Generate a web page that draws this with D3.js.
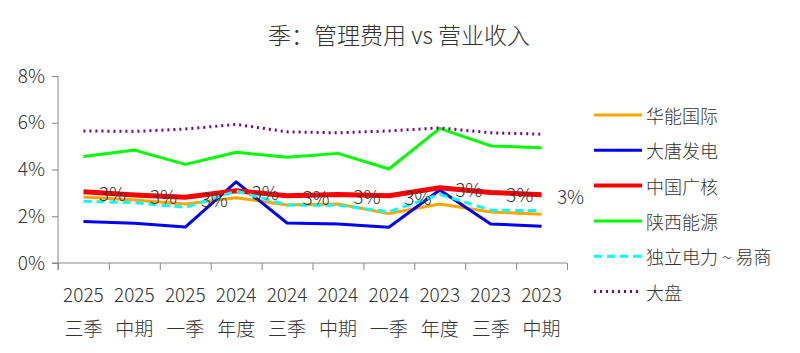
<!DOCTYPE html>
<html>
<head>
<meta charset="utf-8">
<script src="https://cdn.jsdelivr.net/npm/d3@7"></script>
<style>
  body { margin: 0; background: #fff; }
  svg text { font-family: "Noto Sans CJK SC", "Noto Sans", sans-serif; font-weight: 300; fill: #333; }
</style>
</head>
<body>
<svg id="canvas" width="800" height="353"></svg>
<script>
const years = ['2025', '2025', '2025', '2024', '2024', '2024', '2024', '2023', '2023', '2023'];
const periods = ['三季', '中期', '一季', '年度', '三季', '中期', '一季', '年度', '三季', '中期'];
const yTicks = [0, 2, 4, 6, 8];

const seriesNames = ['华能国际', '大唐发电', '中国广核', '陕西能源', '独立电力 ~ 易商', '大盘'];
const huaneng = [2.82, 2.69, 2.52, 2.79, 2.48, 2.52, 2.12, 2.52, 2.18, 2.09];
const datang = [1.78, 1.70, 1.54, 3.47, 1.71, 1.67, 1.53, 3.12, 1.67, 1.57];
const cgn = [3.05, 2.91, 2.81, 3.09, 2.88, 2.93, 2.88, 3.22, 3.02, 2.92];
const shaanxi = [4.56, 4.83, 4.22, 4.74, 4.52, 4.69, 4.02, 5.76, 5.01, 4.93];
const duli = [2.64, 2.58, 2.38, 3.08, 2.48, 2.47, 2.19, 2.94, 2.26, 2.24];
const dapan = [5.65, 5.63, 5.73, 5.93, 5.61, 5.57, 5.65, 5.78, 5.57, 5.51];

const settings = {
  left: 58, right: 567, top: 76, bottom: 263,
};

// style for each series, in legend order
const styles = [
  { color: '#FFA500', width: 3, dash: null },
  { color: '#0000FF', width: 3, dash: null },
  { color: '#FF0000', width: 5, dash: null },
  { color: '#00FF00', width: 3, dash: null },
  { color: '#00FFFF', width: 3, dash: '8,5' },
  { color: '#800080', width: 3, dash: '2,4' },
];

const series = [huaneng, datang, cgn, shaanxi, duli, dapan];

function graph() {
  const svg = d3.select('#canvas');
  const idx = d3.range(years.length);

  const x = d3.scaleBand()
    .domain(idx)
    .range([settings.left, settings.right]);

  const xEdge = d3.scaleLinear()
    .domain([0, years.length])
    .range([settings.left, settings.right]);

  const y = d3.scaleLinear()
    .domain([0, 8])
    .range([settings.bottom, settings.top]);

  svg.append('text')
    .attr('x', 399)
    .attr('y', 34)
    .attr('text-anchor', 'middle')
    .attr('dominant-baseline', 'central')
    .style('font-size', '23px')
    .text('季：管理费用 vs 营业收入');

  // y axis
  const ya = svg.append('g')
    .attr('transform', `translate(${settings.left},0)`)
    .call(d3.axisLeft(y).tickValues(yTicks).tickFormat(d => d + '%').tickSize(6).tickSizeOuter(0));
  ya.select('.domain').attr('d', `M0,${settings.top}V${settings.bottom + 7}`);
  ya.selectAll('line').attr('stroke', '#888');
  ya.select('.domain').attr('stroke', '#888');
  ya.selectAll('text').attr('x', -13).style('font-size', '19px').attr('fill', '#333');

  // x axis, ticks at category boundaries
  const xa = svg.append('g')
    .attr('transform', `translate(0,${settings.bottom})`)
    .call(d3.axisBottom(xEdge).tickValues(d3.range(years.length + 1)).tickFormat('').tickSize(7).tickSizeOuter(0));
  xa.select('.domain').attr('d', `M${settings.left - 6},0H${settings.right}`).attr('stroke', '#888');
  xa.selectAll('line').attr('stroke', '#888');

  const labels = svg.append('g').attr('class', 'xlabels');
  labels.selectAll('text.year')
    .data(idx)
    .join('text')
    .attr('class', 'year')
    .attr('x', d => x(d) + x.bandwidth() / 2)
    .attr('y', 293)
    .attr('text-anchor', 'middle')
    .attr('dominant-baseline', 'central')
    .style('font-size', '19px')
    .text(d => years[d]);
  labels.selectAll('text.period')
    .data(idx)
    .join('text')
    .attr('class', 'period')
    .attr('x', d => x(d) + x.bandwidth() / 2)
    .attr('y', 327)
    .attr('text-anchor', 'middle')
    .attr('dominant-baseline', 'central')
    .style('font-size', '19px')
    .text(d => periods[d]);

  const line = d3.line()
    .x((d, i) => x(i) + x.bandwidth() / 2)
    .y(d => y(d));

  svg.append('g')
    .attr('class', 'lines')
    .selectAll('path')
    .data(series)
    .join('path')
    .attr('d', d => line(d))
    .attr('fill', 'none')
    .attr('stroke', (d, i) => styles[i].color)
    .attr('stroke-width', (d, i) => styles[i].width)
    .attr('stroke-dasharray', (d, i) => styles[i].dash)
    .attr('stroke-linejoin', 'round');

  // data labels on 中国广核
  svg.append('g')
    .attr('class', 'datalabels')
    .selectAll('text')
    .data(cgn)
    .join('text')
    .attr('x', (d, i) => x(i) + x.bandwidth() / 2 + 29)
    .attr('y', d => y(d) + 1)
    .attr('text-anchor', 'middle')
    .attr('dominant-baseline', 'central')
    .style('font-size', '19px')
    .text(d => Math.round(d) + '%');

  // legend
  const lg = svg.append('g')
    .attr('class', 'legend')
    .selectAll('g')
    .data(seriesNames)
    .join('g')
    .attr('transform', (d, i) => `translate(594,${115 + i * 35.3})`);
  lg.append('line')
    .attr('x1', 0).attr('x2', 48)
    .attr('stroke', (d, i) => styles[i].color)
    .attr('stroke-width', (d, i) => Math.min(styles[i].width, 4))
    .attr('stroke-dasharray', (d, i) => styles[i].dash);
  lg.append('text')
    .attr('x', 52)
    .attr('dominant-baseline', 'central')
    .style('font-size', '18px')
    .text(d => d);
}

graph();
</script>
</body>
</html>
